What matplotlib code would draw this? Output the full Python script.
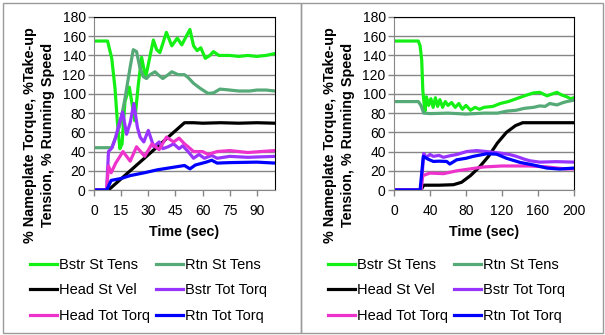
import matplotlib
matplotlib.use('Agg')
import matplotlib.pyplot as plt
from matplotlib.patches import Rectangle

plt.rcParams['font.family'] = ['Liberation Sans', 'DejaVu Sans']

names = ['Bstr St Tens', 'Rtn St Tens', 'Head St Vel', 'Bstr Tot Torq', 'Head Tot Torq', 'Rtn Tot Torq']
colors = ['#14F014', '#55AA77', '#000000', '#9933FF', '#EE33CC', '#0000FF']

# left chart (0-100 s)
t_bstr_l = [0, 7.5, 9.8, 11.6, 12.9, 14.3, 15.5, 17.1, 19.5, 21, 22.5, 24.5, 26.3, 28.5, 32.8, 34.6, 36.4, 40,
            43, 46, 48.5, 51, 53, 55, 57, 59, 61.5, 64, 66, 69, 75, 80, 85, 90, 95, 100]
y_bstr_l = [155, 155, 137, 106, 71, 43, 48, 92, 107, 90, 72, 110, 138, 117, 156, 146, 143, 164,
            150, 158, 151, 160, 167, 150, 145, 148, 137, 140, 144, 140, 140, 139, 140, 139, 140, 142]
t_rtn_l = [0, 9.8, 12, 14.4, 17.1, 19.9, 21.7, 23.5, 25.4, 27.2, 29, 31, 33.7, 36, 38, 41, 43, 46.5,
           50, 52, 55, 58.5, 63, 66, 69.6, 75, 80, 86, 90, 95, 100]
y_rtn_l = [44, 44, 55, 68, 95, 127, 146, 144, 127, 118, 116, 120, 123, 119, 116, 120, 123, 120,
           120, 117, 111, 106, 100.5, 101, 105, 104, 103, 103, 104, 104, 103]
t_vel_l = [0, 8, 50, 55, 60, 70, 80, 90, 100]
y_vel_l = [0, 0, 70, 70, 69.5, 70, 69.5, 70, 69.5]
t_btq_l = [0, 7, 8, 10, 12, 14, 15.8, 18, 20, 22, 24, 25.5, 27.5, 30, 33, 36, 38, 41, 44, 47, 49, 52,
           55, 58, 61, 65, 68, 75, 85, 100]
y_btq_l = [0, 0, 40, 44, 55, 70, 81, 58, 70, 90, 65, 55, 50, 62, 45, 50, 43, 45, 48, 43, 46, 40,
           33, 37, 33, 36, 33, 35, 34, 35]
t_htq_l = [0, 7, 8, 9.5, 12, 16, 20, 23.5, 28, 32, 36, 40, 44, 47, 50, 52, 55, 60, 63, 68, 75, 85, 92, 100]
y_htq_l = [0, 0, 25, 18, 28, 40, 30, 45, 35, 48, 42, 55, 50, 54, 48, 45, 40, 40, 37, 40, 41, 39, 40, 41]
t_rtq_l = [0, 7, 9.5, 15, 20, 28, 35, 45, 50, 53, 56, 62, 65, 68, 75, 90, 100]
y_rtq_l = [0, 0, 10, 12, 15, 18, 21, 24, 25.5, 22, 26, 29, 31, 28, 28.5, 29, 28]

# right chart (0-200 s)
t_bstr_r = [0, 27, 29, 30.8, 32, 33, 34.4, 36, 38.5, 41, 43.5, 46, 48.5, 51, 54, 57, 60, 64, 68, 72,
            76, 80, 85, 90, 95, 100, 110, 118, 127, 136, 145, 155, 162, 170, 176, 181, 186, 192, 196, 200]
y_bstr_r = [155, 155, 150, 135, 104, 94, 82, 97, 88, 95, 86, 96, 87, 94, 86, 92, 88, 91, 86, 90,
            84, 88, 83, 86, 84, 86, 87, 90, 92, 95, 98, 101, 101.6, 98, 100, 101.6, 99, 97, 95, 96]
t_rtn_r = [0, 27, 30, 33, 40, 60, 80, 100, 115, 125, 136, 145, 155, 162, 168, 173, 181, 188, 192, 200]
y_rtn_r = [92, 92, 88, 80, 79.5, 80, 79, 80, 80, 82, 83, 85, 86, 87.5, 87, 90, 88.5, 91, 92, 93.5]
t_vel_r = [0, 30, 33, 50, 66, 75, 85, 95, 105, 115, 125, 135, 143, 160, 180, 200]
y_vel_r = [0, 0, 5, 5, 5.5, 8, 15, 24, 35, 49, 60, 67, 70, 70, 70, 70]
t_btq_r = [0, 30, 33, 36, 40, 43.7, 50, 55, 62, 70, 80.7, 92, 103, 118, 128, 136, 145, 151, 162, 180, 200]
y_btq_r = [0, 0, 38, 34, 37, 35, 36, 34, 35.6, 37, 40, 41, 40, 38.4, 37, 35, 32, 30.4, 29, 29.5, 29]
t_htq_r = [0, 30, 32, 40, 55, 70, 85, 100, 120, 150, 170, 190, 200]
y_htq_r = [0, 0, 15, 17.6, 17, 20, 22, 24, 25, 25, 24, 22, 22]
t_rtq_r = [0, 29, 32.6, 38, 43.7, 50, 58.5, 62, 69.6, 80, 88, 103, 114, 125, 140, 155, 170, 184, 200]
y_rtq_r = [0, 0, 35, 32, 29.7, 30, 29.7, 27, 31.4, 33, 35, 37.7, 37.3, 33, 28.7, 26, 22.8, 21.8, 22.8]

left_series = [(t_bstr_l, y_bstr_l), (t_rtn_l, y_rtn_l), (t_vel_l, y_vel_l),
               (t_btq_l, y_btq_l), (t_htq_l, y_htq_l), (t_rtq_l, y_rtq_l)]
right_series = [(t_bstr_r, y_bstr_r), (t_rtn_r, y_rtn_r), (t_vel_r, y_vel_r),
                (t_btq_r, y_btq_r), (t_htq_r, y_htq_r), (t_rtq_r, y_rtq_r)]

W, H = 605, 335
fig = plt.figure(figsize=(W / 100, H / 100), dpi=100)


def fx(px):
    return px / W


def fy(py):
    return 1 - py / H


ylabel = '% Nameplate Torque, %Take-up\nTension, % Running Speed'


def panel(x0, x1, ax_left, ax_right, series, xmax, xstep):
    # panel frame
    fig.add_artist(Rectangle((fx(x0), fy(333)), fx(x1 - x0), (333 - 3) / H, transform=fig.transFigure,
                             fill=False, edgecolor='#9a9a9a', lw=1))
    ax = fig.add_axes([fx(ax_left), fy(190), fx(ax_right - ax_left), (190 - 17) / H])
    lines = []
    for (t, y), name, c in zip(series, names, colors):
        ln, = ax.plot(t, y, color=c, lw=2.3, label=name, solid_joinstyle='round')
        lines.append(ln)
    ax.set_xlim(0, xmax)
    ax.set_ylim(0, 180)
    ax.set_xticks(range(0, xmax if xmax % xstep else xmax + 1, xstep))
    ax.set_yticks(range(0, 181, 20))
    ax.grid(axis='y', color='#868686', lw=1)
    ax.set_axisbelow(True)
    for s in ['left', 'bottom']:
        ax.spines[s].set_color('#868686')
    for s in ['top', 'right']:
        ax.spines[s].set_color('black')
    ax.tick_params(direction='out', length=4, width=1, color='#868686', labelsize=10, pad=2)
    ax.tick_params(axis='x', pad=6)
    ax.set_xlabel('Time (sec)', fontsize=10.3, fontweight='bold', labelpad=5)
    fig.text(fx(ax_left - 55), fy(135), ylabel, rotation=90, ha='center', va='center',
             multialignment='center', fontsize=10.4, fontweight='bold', linespacing=1.4)
    order = [0, 2, 4, 1, 3, 5]
    fig.legend([lines[i] for i in order], [names[i] for i in order], ncol=2,
               loc='upper left', bbox_to_anchor=(fx(x0 + 27), fy(258)), frameon=False,
               fontsize=10.5, handlelength=1.85, handletextpad=0.15, columnspacing=0.4,
               labelspacing=0.78, borderpad=0, borderaxespad=0)
    return ax


panel(3, 301, 94, 275, left_series, 100, 15)
panel(301, 603, 394, 574, right_series, 200, 40)

fig.savefig('out.png', dpi=100)
